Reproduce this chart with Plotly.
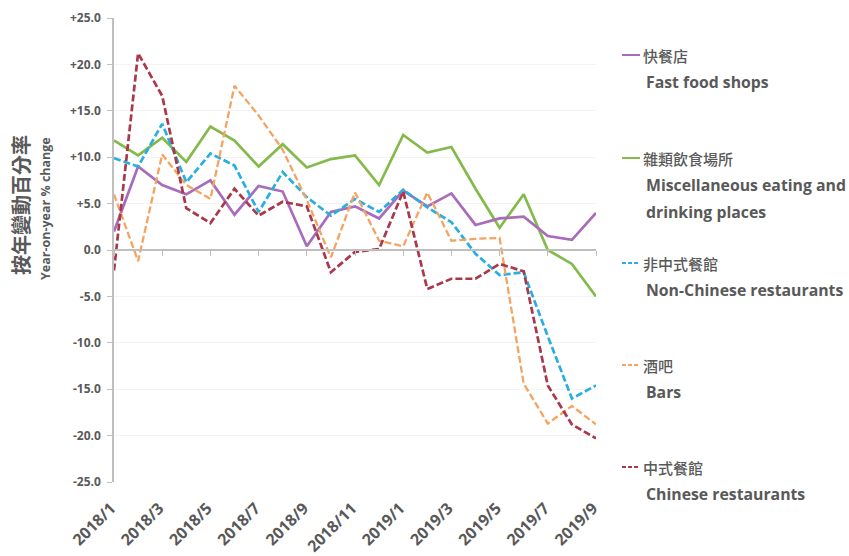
import plotly.graph_objects as go

# Monthly periods (x categories)
months = ["2018/1", "2018/2", "2018/3", "2018/4", "2018/5", "2018/6", "2018/7",
          "2018/8", "2018/9", "2018/10", "2018/11", "2018/12", "2019/1", "2019/2",
          "2019/3", "2019/4", "2019/5", "2019/6", "2019/7", "2019/8", "2019/9"]
x_tick_labels = months[::2]

y_tick_values = [25, 20, 15, 10, 5, 0, -5, -10, -15, -20, -25]
y_tick_labels = ["+25.0", "+20.0", "+15.0", "+10.0", "+5.0", "0.0",
                 "-5.0", "-10.0", "-15.0", "-20.0", "-25.0"]

# Year-on-year % change by outlet type
fast_food = [2.0, 9.0, 7.0, 6.0, 7.5, 3.8, 6.9, 6.3, 0.4, 4.1, 4.7,
             3.4, 6.4, 4.7, 6.1, 2.7, 3.4, 3.6, 1.5, 1.1, 4.0]
misc_eating = [11.8, 10.2, 12.1, 9.5, 13.3, 11.8, 9.0, 11.4, 8.9, 9.8, 10.2,
               7.0, 12.4, 10.5, 11.1, 6.6, 2.4, 6.0, 0.0, -1.5, -5.0]
non_chinese = [9.9, 9.0, 13.6, 7.3, 10.4, 9.1, 4.1, 8.4, 5.7, 3.7, 5.5,
               4.1, 6.5, 4.6, 3.0, -0.4, -2.7, -2.4, -9.3, -16.0, -14.6]
bars = [6.0, -1.2, 10.3, 7.0, 5.5, 17.7, 14.5, 10.8, 5.4, -0.8, 6.2,
        1.0, 0.4, 6.2, 1.0, 1.2, 1.3, -14.4, -18.7, -16.8, -18.8]
chinese = [-2.2, 21.2, 16.6, 4.5, 2.9, 6.6, 3.7, 5.2, 4.7, -2.4, -0.2,
           0.1, 6.3, -4.2, -3.1, -3.1, -1.5, -2.3, -14.6, -18.8, -20.3]

names_zh = ["快餐店", "雜類飲食場所", "非中式餐館", "酒吧", "中式餐館"]
names_en = [["Fast food shops"],
            ["Miscellaneous eating and", "drinking places"],
            ["Non-Chinese restaurants"],
            ["Bars"],
            ["Chinese restaurants"]]
series = [fast_food, misc_eating, non_chinese, bars, chinese]
colors = ["#a86cba", "#84ba4b", "#29aee0", "#f4a462", "#a8384a"]
dashes = ["solid", "solid", "7px,3px", "7px,3px", "7px,3px"]
widths = [2.7, 2.7, 2.7, 2.3, 2.7]

TEXT = "#595959"
AXIS = "#bfbfbf"

fig = go.Figure()
# draw order: bottom to top
for k in [1, 0, 2, 3, 4]:
    fig.add_trace(go.Scatter(
        x=months, y=series[k], mode="lines", name=names_zh[k],
        line=dict(color=colors[k], width=widths[k], dash=dashes[k]),
        showlegend=False,
    ))

W, H = 849, 556
ML, MR, MT, MB = 114, 253, 18, 74
PW, PH = W - ML - MR, H - MT - MB


def px_x(px):
    return (px - ML) / PW


def px_y(py):
    return (H - MB - py) / PH


annotations = []
shapes = []

# Custom legend: line sample + Chinese name + English description
legend_top = [55, 158, 263, 365, 467]
for k in range(5):
    yc = legend_top[k]
    shapes.append(dict(
        type="line", xref="paper", yref="paper",
        x0=px_x(622), x1=px_x(640), y0=px_y(yc), y1=px_y(yc),
        line=dict(color=colors[k], width=2,
                  dash="4px,2px" if dashes[k] != "solid" else "solid"),
    ))
    annotations.append(dict(
        xref="paper", yref="paper", x=px_x(641), y=px_y(yc),
        xanchor="left", yanchor="middle", showarrow=False, text=names_zh[k],
        font=dict(family="Noto Sans CJK TC", size=15, color=TEXT, weight=500),
    ))
    for j, line_txt in enumerate(names_en[k]):
        annotations.append(dict(
            xref="paper", yref="paper", x=px_x(644), y=px_y(yc + 27 * (j + 1)),
            xanchor="left", yanchor="middle", showarrow=False,
            text="<b>" + line_txt + "</b>",
            font=dict(family="Open Sans", size=15.8, color=TEXT),
        ))

# Y-axis titles
annotations.append(dict(
    xref="paper", yref="paper", x=px_x(20), y=px_y(205),
    xanchor="center", yanchor="middle", showarrow=False, textangle=-90,
    text="<b>按年變動百分率</b>",
    font=dict(family="Noto Sans CJK TC", size=20, color=TEXT),
))
annotations.append(dict(
    xref="paper", yref="paper", x=px_x(45), y=px_y(209),
    xanchor="center", yanchor="middle", showarrow=False, textangle=-90,
    text="<b>Year-on-year % change</b>",
    font=dict(family="Open Sans", size=12.5, color=TEXT),
))

fig.update_layout(
    width=W, height=H,
    margin=dict(l=ML, r=MR, t=MT, b=MB),
    paper_bgcolor="white", plot_bgcolor="white",
    annotations=annotations, shapes=shapes,
    xaxis=dict(
        type="category", range=[0, len(months) - 1],
        tickmode="array", tickvals=x_tick_labels, ticktext=x_tick_labels,
        anchor="free", position=0.5, automargin=False,
        showline=True, linecolor=AXIS, linewidth=1.5,
        ticks="outside", ticklen=5, tickcolor=AXIS, tickwidth=1,
        showgrid=False, zeroline=False,
        tickangle=-45, ticklabelstandoff=237, ticklabelshift=-3,
        tickfont=dict(family="Open Sans", size=16, color=TEXT, weight="bold"),
    ),
    yaxis=dict(
        range=[-25, 25], tickmode="array", automargin=False,
        tickvals=y_tick_values, ticktext=y_tick_labels,
        showline=True, linecolor=AXIS, linewidth=1.5,
        ticks="outside", ticklen=5, tickcolor=AXIS,
        showgrid=True, gridcolor="#f3f3f3", gridwidth=1,
        zeroline=False, ticklabelstandoff=4,
        tickfont=dict(family="Open Sans", size=12, color=TEXT, weight="bold"),
    ),
)

fig.write_html("out.html")
